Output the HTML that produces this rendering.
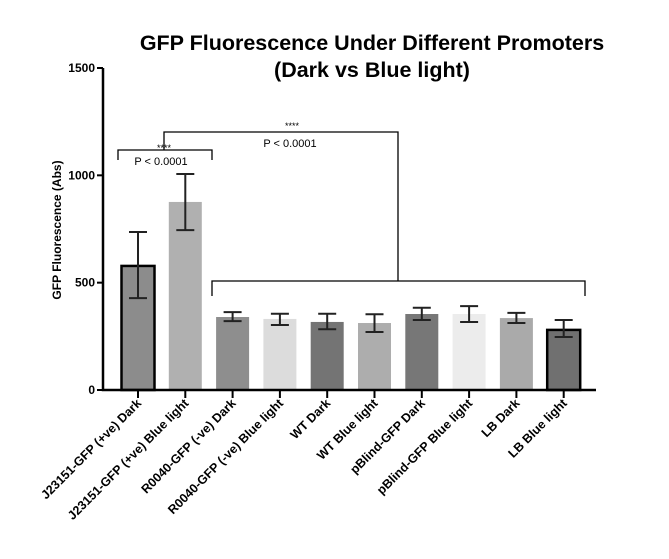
<!DOCTYPE html>
<html><head><meta charset="utf-8"><style>
body{margin:0;background:#fff}
svg{font-family:"Liberation Sans",Arial,sans-serif}
</style></head><body>
<svg width="669" height="554" viewBox="0 0 669 554">
<text x="372" y="50" text-anchor="middle" font-size="21.5" font-weight="bold">GFP Fluorescence Under Different Promoters</text>
<text x="372" y="77" text-anchor="middle" font-size="21.5" font-weight="bold">(Dark vs Blue light)</text>
<text transform="translate(61,230) rotate(-90)" text-anchor="middle" font-size="12" font-weight="bold">GFP Fluorescence (Abs)</text>
<g id="plot"></g>
</svg>
<script>
const categories=["J23151-GFP (+ve) Dark","J23151-GFP (+ve) Blue light","R0040-GFP (-ve) Dark","R0040-GFP (-ve) Blue light","WT Dark","WT Blue light","pBlind-GFP Dark","pBlind-GFP Blue light","LB Dark","LB Blue light"];
const means=[578,876,340,331,317,312,354,354,335,280];
const errHigh=[736,1006,363,355,355,353,383,391,359,326];
const errLow=[428,745,321,303,283,270,326,317,312,247];
const yTicks=[0,500,1000,1500];
const colors=["#8c8c8c","#b0b0b0","#8e8e8e","#dcdcdc","#747474","#adadad","#777777","#ececec","#aaaaaa","#707070"];
const outlined=[true,false,false,false,false,false,false,false,false,true];
const NS="http://www.w3.org/2000/svg";
const g=document.getElementById('plot');
const y=v=>390-v*322/1500;
const x=i=>138+i*47.3;
function mk(t,a,p){const e=document.createElementNS(NS,t);for(const k in a)e.setAttribute(k,a[k]);(p||g).appendChild(e);return e;}
categories.forEach((c,i)=>{
 const r=mk('rect',{x:x(i)-16.5,y:y(means[i]),width:33,height:390-y(means[i]),fill:colors[i],stroke:outlined[i]?'#000':'none','stroke-width':2.5});
 
 
 const e=mk('path',{d:`M${x(i)},${y(errLow[i])}V${y(errHigh[i])}M${x(i)-9},${y(errHigh[i])}h18M${x(i)-9},${y(errLow[i])}h18`,stroke:'#222',fill:'none','stroke-width':2});
 
 
 mk('line',{x1:x(i),x2:x(i),y1:390,y2:398,stroke:'#000','stroke-width':2});
 const t=mk('text',{transform:`translate(${x(i)+4},${404}) rotate(-45)`,'text-anchor':'end','font-size':12.5,'font-weight':'bold'});
 t.textContent=c;
 
 
});
const ax=mk('path',{d:'M103,68V390H596',stroke:'#000',fill:'none','stroke-width':2.5});


yTicks.forEach(v=>{
 mk('line',{x1:97,x2:103,y1:y(v),y2:y(v),stroke:'#000','stroke-width':2});
 const t=mk('text',{x:95,y:y(v)+4,'text-anchor':'end','font-size':12,'font-weight':'bold'});
 t.textContent=v;
 
 
});
const br=mk('path',{d:'M118,160V150H212V160M164,150V132H398V281M212,296V281H585V296',stroke:'#000',fill:'none','stroke-width':1.3});


[[164,151,'****',9],[161,165,'P < 0.0001',11],[292,129,'****',9],[290,147,'P < 0.0001',11]].forEach(a=>{
 const t=mk('text',{x:a[0],y:a[1],'text-anchor':'middle','font-size':a[3]});
 t.textContent=a[2];
 
 
});
</script>
</body></html>
